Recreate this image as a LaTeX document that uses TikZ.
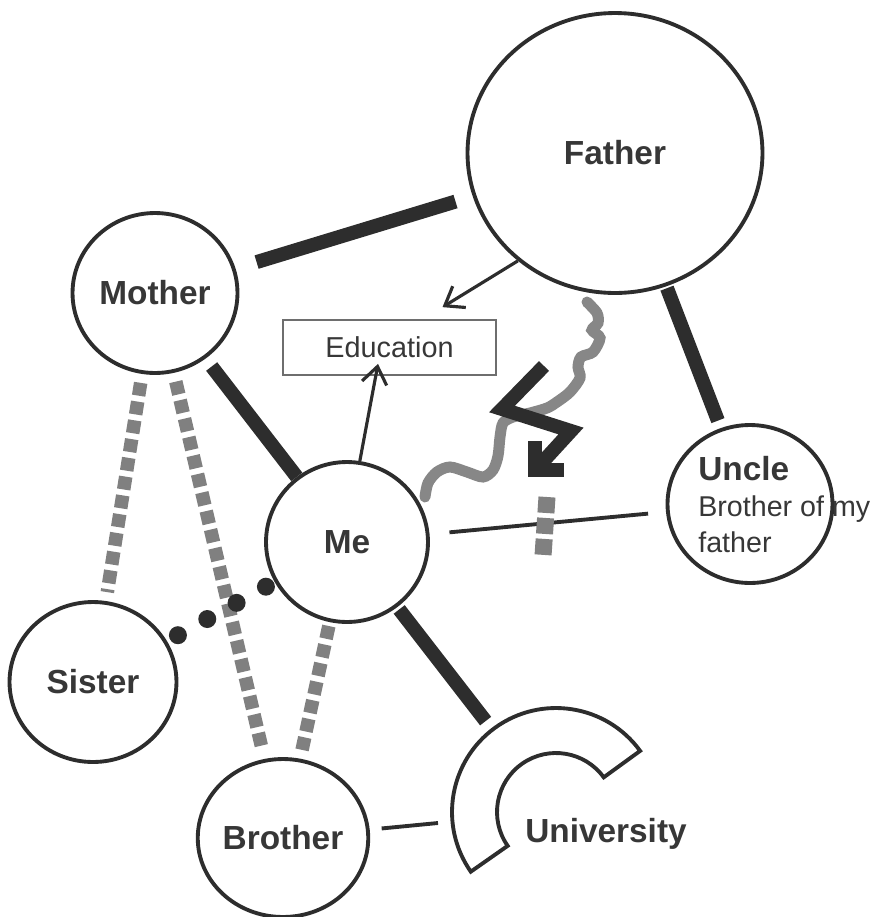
\documentclass[tikz,border=0pt]{standalone}
\usepackage{fontspec}
\setmainfont{Liberation Sans}
\usepackage{xcolor}
\usetikzlibrary{arrows.meta,calc,shapes.geometric}
\definecolor{ink}{RGB}{45,45,45}
\definecolor{txtc}{RGB}{55,55,55}
\definecolor{dashg}{RGB}{128,128,128}
\definecolor{waveg}{RGB}{135,135,135}
\definecolor{boxg}{RGB}{110,110,110}
\tikzset{
  person/.style={ellipse,draw=ink,line width=2.2pt,inner sep=0pt,
                 font=\fontsize{19}{23}\selectfont\bfseries,text=txtc},
  bigtext/.style={inner sep=0pt,font=\fontsize{19}{23}\selectfont\bfseries,text=txtc},
  edubox/.style={rectangle,draw=boxg,line width=1pt,minimum width=4.26cm,
                 minimum height=1.1cm,font=\fontsize{16.4}{20}\selectfont,text=txtc},
  bond/.style={draw=ink,line width=0.28cm},
  weak/.style={draw=dashg,line width=0.27cm,dash pattern=on 0.26cm off 0.12cm},
  link/.style={draw=ink,line width=2.2pt},
  pointer/.style={-{Straight Barb[length=3.4mm,width=5mm]},draw=ink,line width=1.8pt},
  bolt/.style={draw=ink,line width=0.28cm,miter limit=10},
  wave/.style={draw=waveg,line width=0.22cm,line cap=round},
}

\begin{document}
\begin{tikzpicture}[x=0.02cm,y=-0.02cm]
  \useasboundingbox (0,0) rectangle (877,917);

  % the people
  \node[person,minimum width=5.9cm,minimum height=5.6cm] (father) at (615,153) {Father};
  \node[person,minimum width=3.3cm,minimum height=3.2cm] (mother) at (155,293) {Mother};
  \node[person,minimum width=3.24cm,minimum height=3.2cm] (me) at (347,542) {Me};
  \node[person,minimum width=3.3cm,minimum height=3.16cm] (uncle) at (750,504) {};
  \node[person,minimum width=3.34cm,minimum height=3.2cm] (sister) at (93,682) {Sister};
  \node[person,minimum width=3.3cm,minimum height=3.16cm] (brother) at (283,838) {Brother};
  \node[font=\fontsize{16.3}{20.5}\selectfont,align=left,anchor=north west,
        inner sep=0pt,text=txtc] (uncletext) at (698,456)
        {{\fontsize{19}{20.5}\selectfont\bfseries Uncle}\\Brother of my\\father};

  \node[edubox] (edu) at (389.5,347.5) {Education};

  % university
  \coordinate (uni) at (556,812);
  \coordinate (unil) at (438,823);
  \draw[link] (uni) ++(36:2.08cm) arc[start angle=36,end angle=215,radius=2.08cm]
    -- ($(uni)+(215:1.18cm)$) arc[start angle=215,end angle=36,radius=1.18cm] -- cycle;
  \node[bigtext,anchor=base] (univ) at (606,842) {University};

  % strong ties
  \draw[bond,shorten <=0.44cm,shorten >=0.36cm] (mother) -- (father);
  \draw[bond,shorten <=0.2cm] (mother) -- (me);
  \draw[bond,shorten <=0.04cm,shorten >=0.16cm] (father) -- (uncle);
  \draw[bond,shorten <=0.06cm,shorten >=2.3cm] (me) -- (uni);

  % weak ties
  \draw[weak,shorten <=0.18cm,shorten >=0.18cm] (mother) -- (sister);
  \draw[weak,shorten <=0.18cm,shorten >=0.2cm] (mother) -- (brother);
  \draw[weak,shorten <=0.08cm,shorten >=0.18cm] (me) -- (brother);
  \foreach \d in {1.94,2.61,3.28,3.95}
    \fill[ink] ($(sister)!\d cm!(me)$) circle (0.18cm);

  % thin lines
  \draw[link,shorten <=0.4cm,shorten >=0.36cm] (me) -- (uncle);
  \draw[link,shorten <=0.24cm] (brother) -- (unil);
  \draw[draw=dashg,line width=0.34cm,dash pattern=on 0.32cm off 0.1cm] (547,497) -- (543,556);

  % education
  \draw[pointer] (father.228) -- ([shift={(53,-12)}]edu.north);
  \draw[pointer] (me.81) -- ([shift={(-11.5,-12)}]edu.south);

  % conflict
  \draw[wave] plot[smooth] coordinates {(587,302) (597,313) (598,323) (592,330)
    (600,338) (593,352) (581,357) (578,367) (580,378) (570,392) (557,402)
    (547,408) (530,413) (513,417) (503,423) (500,437) (498,456) (493,470)
    (483,477) (467,472) (450,467) (437,472) (428,483) (425,497)};
  \draw[bolt] (544,366) -- (502,409) -- (571,431) -- (538,467);
  \draw[bolt] (535,441) -- (535,470) -- (564,470);
\end{tikzpicture}
\end{document}
